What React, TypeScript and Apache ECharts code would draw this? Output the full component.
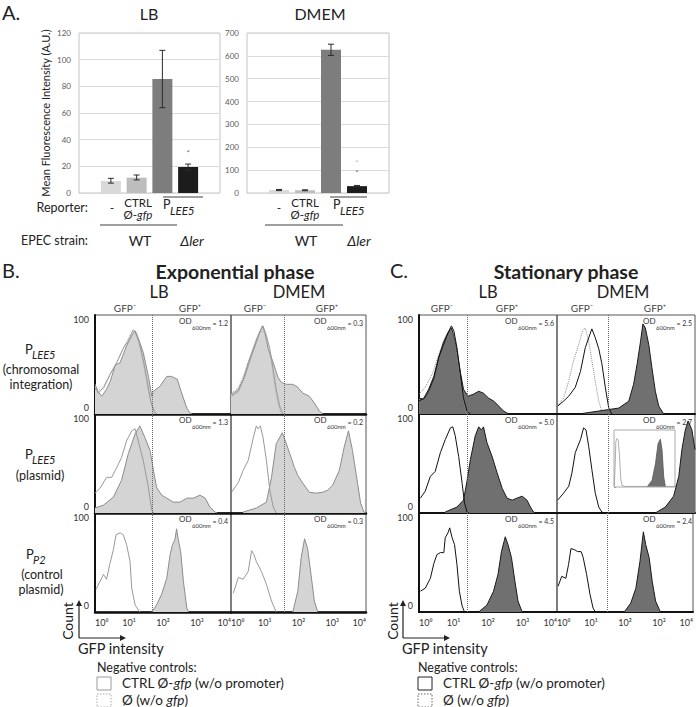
import React, { useEffect, useRef } from 'react';
import * as echarts from 'echarts';

// ---------- Panel A data ----------
const barCategories = ['-', 'CTRL Ø-gfp', 'PLEE5 WT', 'PLEE5 Δler'];
const lbMeans = [9, 11.5, 85.5, 19.5];
const lbErrLow = [7.4, 9.8, 64, 17.2];
const lbErrHigh = [11, 13.5, 107, 21.7];
const lbStar = [[3, 30]];
const dmemMeans = [13, 12, 627, 30];
const dmemErrLow = [10.5, 10, 602, 27];
const dmemErrHigh = [15.5, 14, 651, 33];
const dmemStars = [[3, 131], [3, 88]];

// ---------- Panels B / C histogram data: [log10 GFP intensity, % of max count] ----------
const expLbChromSample = [[0, 30], [0.1, 22], [0.2, 18], [0.34, 25], [0.45, 33], [0.59, 49], [0.74, 52], [0.93, 69], [1.08, 79], [1.18, 84], [1.27, 77], [1.42, 62], [1.57, 38], [1.67, 18], [1.72, 23], [1.91, 28], [2.11, 38], [2.25, 38], [2.42, 35], [2.55, 21], [2.7, 6], [2.79, 1], [2.85, 0]];
const expLbChromCtrl = [[0, 27], [0.1, 21], [0.25, 27], [0.44, 40], [0.64, 52], [0.83, 66], [0.98, 74], [1.11, 84], [1.18, 83], [1.3, 72], [1.42, 55], [1.54, 32], [1.64, 13], [1.74, 3], [1.81, 0]];
const expLbChromEmpty = [[0, 25], [0.25, 25], [0.44, 39], [0.64, 52], [0.83, 67], [1.01, 78], [1.13, 86], [1.23, 81], [1.34, 66], [1.47, 42], [1.6, 18], [1.7, 4], [1.76, 0]];
const expDmemChromSample = [[0, 20], [0.07, 21], [0.22, 25], [0.36, 35], [0.51, 52], [0.66, 66], [0.8, 79], [0.93, 89], [1.0, 83], [1.1, 66], [1.25, 52], [1.39, 37], [1.49, 32], [1.64, 30], [1.83, 30], [1.98, 27], [2.13, 21], [2.32, 18], [2.47, 11], [2.62, 3], [2.72, 0]];
const expDmemChromCtrl = [[0.02, 18], [0.22, 23], [0.41, 38], [0.61, 59], [0.75, 72], [0.87, 84], [0.95, 89], [1.05, 79], [1.15, 66], [1.25, 45], [1.34, 25], [1.44, 8], [1.54, 0]];
const expDmemChromEmpty = [[0.02, 21], [0.22, 27], [0.41, 42], [0.61, 62], [0.75, 76], [0.87, 83], [0.97, 84], [1.07, 74], [1.2, 52], [1.29, 30], [1.39, 11], [1.49, 0]];

const expLbPlasSample = [[0, 5], [0.25, 8], [0.54, 16], [0.78, 33], [0.98, 60], [1.18, 80], [1.32, 88], [1.47, 76], [1.62, 63], [1.72, 43], [1.81, 26], [1.96, 18], [2.11, 15], [2.3, 11], [2.5, 11], [2.7, 15], [2.89, 15], [3.09, 18], [3.24, 15], [3.38, 6], [3.53, 1], [3.6, 0]];
const expLbPlasCtrl = [[0, 20], [0.15, 25], [0.34, 36], [0.49, 36], [0.64, 46], [0.78, 56], [0.93, 73], [1.08, 83], [1.18, 85], [1.27, 73], [1.42, 53], [1.57, 26], [1.67, 3], [1.72, 0]];
const expDmemPlasSample = [[0.36, 1], [0.75, 5], [1.05, 11], [1.2, 36], [1.34, 70], [1.52, 81], [1.64, 70], [1.74, 60], [1.88, 46], [1.98, 38], [2.13, 30], [2.32, 21], [2.52, 20], [2.72, 21], [2.86, 23], [3.01, 28], [3.21, 43], [3.35, 66], [3.48, 83], [3.6, 63], [3.75, 30], [3.84, 10], [3.94, 1], [4, 0]];
const expDmemPlasCtrl = [[0.02, 21], [0.22, 31], [0.36, 43], [0.51, 53], [0.66, 76], [0.75, 88], [0.8, 85], [0.87, 88], [0.95, 76], [1.05, 53], [1.15, 23], [1.25, 6], [1.34, 0]];

const expLbP2Sample = [[1.67, 0], [1.81, 7], [1.96, 18], [2.11, 34], [2.21, 58], [2.28, 68], [2.35, 73], [2.4, 84], [2.45, 73], [2.52, 61], [2.6, 31], [2.7, 4], [2.75, 0]];
const expLbP2Ctrl = [[0.03, 23], [0.15, 31], [0.25, 38], [0.34, 33], [0.44, 49], [0.54, 63], [0.62, 78], [0.74, 80], [0.83, 78], [0.93, 68], [1.03, 51], [1.08, 24], [1.18, 7], [1.32, 0]];
const expDmemP2Sample = [[1.83, 0], [1.98, 21], [2.08, 55], [2.18, 74], [2.27, 64], [2.37, 38], [2.47, 11], [2.57, 0]];
const expDmemP2Ctrl = [[0.07, 19], [0.22, 35], [0.36, 33], [0.51, 41], [0.61, 62], [0.68, 58], [0.75, 51], [0.9, 41], [1.05, 28], [1.2, 11], [1.34, 0]];

const statLbChromSample = [[0, 16], [0.14, 15], [0.28, 23], [0.43, 36], [0.57, 57], [0.71, 73], [0.86, 83], [0.94, 87], [1.0, 80], [1.1, 64], [1.2, 42], [1.29, 25], [1.42, 18], [1.58, 20], [1.73, 23], [1.87, 21], [2.02, 16], [2.17, 13], [2.31, 8], [2.45, 3], [2.6, 0]];
const statLbChromCtrl = [[0, 13], [0.14, 16], [0.28, 25], [0.43, 38], [0.57, 57], [0.71, 70], [0.84, 82], [0.94, 89], [1.01, 84], [1.1, 67], [1.2, 40], [1.29, 16], [1.39, 3], [1.49, 0]];
const statLbChromEmpty = [[0, 20], [0.18, 27], [0.38, 40], [0.57, 60], [0.71, 73], [0.81, 82], [0.91, 85], [1.0, 80], [1.1, 60], [1.2, 34], [1.29, 13], [1.39, 0]];
const statDmemChromSample = [[0.63, 0], [1.21, 3], [1.79, 6], [2.08, 13], [2.22, 30], [2.32, 50], [2.42, 73], [2.49, 91], [2.56, 87], [2.66, 70], [2.75, 47], [2.85, 23], [2.95, 8], [3.09, 0]];
const statDmemChromCtrl = [[0.02, 8], [0.19, 13], [0.34, 18], [0.53, 27], [0.68, 43], [0.82, 67], [0.92, 77], [1.01, 86], [1.11, 77], [1.21, 66], [1.3, 51], [1.4, 27], [1.5, 6], [1.59, 0]];
const statDmemChromEmpty = [[0.02, 9], [0.19, 16], [0.34, 33], [0.48, 54], [0.63, 70], [0.74, 84], [0.82, 87], [0.92, 73], [1.01, 54], [1.11, 33], [1.21, 13], [1.3, 3], [1.35, 0]];

const statLbPlasSample = [[0.76, 1], [1.1, 6], [1.29, 13], [1.39, 32], [1.49, 54], [1.63, 78], [1.73, 87], [1.81, 84], [1.87, 87], [1.97, 71], [2.12, 57], [2.26, 41], [2.41, 25], [2.55, 15], [2.7, 13], [2.84, 15], [2.99, 17], [3.13, 13], [3.23, 6], [3.32, 1], [3.38, 0]];
const statLbPlasCtrl = [[0.04, 15], [0.18, 22], [0.33, 37], [0.47, 42], [0.62, 61], [0.76, 74], [0.91, 86], [0.98, 87], [1.05, 78], [1.15, 57], [1.25, 30], [1.32, 10], [1.39, 1], [1.45, 0]];
const statDmemPlasSample = [[2.85, 0], [3.14, 6], [3.38, 17], [3.53, 37], [3.62, 64], [3.72, 84], [3.8, 93], [3.91, 84], [4.0, 64]];
const statDmemPlasCtrl = [[0.02, 13], [0.19, 20], [0.34, 27], [0.43, 40], [0.53, 61], [0.68, 74], [0.77, 86], [0.84, 84], [0.92, 67], [1.01, 44], [1.11, 20], [1.21, 6], [1.3, 1], [1.36, 0]];
const insetSample = [[2.17, 0], [2.5, 12], [2.72, 41], [2.89, 76], [3.04, 84], [3.15, 65], [3.26, 18], [3.37, 0]];
const insetCtrl = [[0.02, 2], [0.08, 40], [0.12, 80], [0.2, 85], [0.28, 82], [0.36, 55], [0.44, 15], [0.52, 3], [0.7, 1], [4, 1]];

const statLbP2Sample = [[1.73, 0], [1.97, 7], [2.16, 21], [2.29, 38], [2.39, 61], [2.5, 76], [2.58, 68], [2.68, 55], [2.78, 31], [2.87, 11], [2.99, 0]];
const statLbP2Ctrl = [[0.04, 21], [0.18, 24], [0.33, 34], [0.43, 49], [0.52, 58], [0.62, 60], [0.72, 60], [0.76, 75], [0.84, 80], [0.89, 85], [0.96, 75], [1.03, 68], [1.1, 48], [1.17, 21], [1.25, 6], [1.32, 0]];
const statDmemP2Sample = [[1.98, 0], [2.17, 9], [2.32, 24], [2.44, 51], [2.54, 81], [2.61, 68], [2.71, 55], [2.8, 31], [2.9, 11], [3.04, 0]];
const statDmemP2Ctrl = [[0.03, 26], [0.14, 36], [0.26, 34], [0.34, 48], [0.41, 64], [0.51, 63], [0.61, 61], [0.71, 61], [0.77, 55], [0.87, 38], [0.97, 18], [1.06, 4], [1.13, 0]];

const expOd = ['1.2', '0.3', '1.3', '0.2', '0.4', '0.3'];
const statOd = ['5.6', '2.5', '5.0', '2.7', '4.5', '2.4'];
const expGate = [1.68, 1.57];
const statGate = [1.4, 1.48];
const xTickExponents = ['⁰', '¹', '²', '³', '⁴'];

const FONT = 'Lato, "Open Sans", "DejaVu Sans", sans-serif';

type Cell = { sample: number[][]; ctrl: number[][]; empty?: number[][] };

const expCells: Cell[] = [
  { sample: expLbChromSample, ctrl: expLbChromCtrl, empty: expLbChromEmpty },
  { sample: expDmemChromSample, ctrl: expDmemChromCtrl, empty: expDmemChromEmpty },
  { sample: expLbPlasSample, ctrl: expLbPlasCtrl },
  { sample: expDmemPlasSample, ctrl: expDmemPlasCtrl },
  { sample: expLbP2Sample, ctrl: expLbP2Ctrl },
  { sample: expDmemP2Sample, ctrl: expDmemP2Ctrl },
];
const statCells: Cell[] = [
  { sample: statLbChromSample, ctrl: statLbChromCtrl, empty: statLbChromEmpty },
  { sample: statDmemChromSample, ctrl: statDmemChromCtrl, empty: statDmemChromEmpty },
  { sample: statLbPlasSample, ctrl: statLbPlasCtrl },
  { sample: statDmemPlasSample, ctrl: statDmemPlasCtrl },
  { sample: statLbP2Sample, ctrl: statLbP2Ctrl },
  { sample: statDmemP2Sample, ctrl: statDmemP2Ctrl },
];

function T(text: string, x: number, y: number, o: any = {}) {
  const align = o.align || 'center';
  return {
    type: 'text', x, y, rotation: o.rot || 0, silent: true, z: 100,
    style: {
      text, fontSize: o.size || 12, fontFamily: FONT,
      fontWeight: o.bold ? 'bold' : 'normal', fontStyle: o.italic ? 'italic' : 'normal',
      fill: o.color || '#222', align, verticalAlign: 'middle', textAlign: align, textVerticalAlign: 'middle',
      rich: o.rich,
    },
  };
}
function richIt(size: number, color: string) {
  return {
    n: { fontSize: size, fontFamily: FONT, fill: color, color },
    i: { fontSize: size, fontFamily: FONT, fontStyle: 'italic', fill: color, color },
  };
}
function L(x1: number, y1: number, x2: number, y2: number, stroke: string, w: number, dash?: number[]) {
  return { type: 'line', silent: true, z: 100, shape: { x1, y1, x2, y2 }, style: { stroke, lineWidth: w, lineDash: dash } };
}

export default function App() {
  const ref = useRef<HTMLDivElement>(null);
  useEffect(() => {
    if (!ref.current) return;
    const chart = echarts.init(ref.current, null, { renderer: 'svg' });

    const grid: any[] = [];
    const xAxis: any[] = [];
    const yAxis: any[] = [];
    const series: any[] = [];
    const graphic: any[] = [];

    // ---- Panel A ----
    const barColors = ['#d9d9d9', '#bdbdbd', '#7d7d7d', '#1c1c1c'];
    const panelsA = [
      { left: 79, width: 141, max: 120, interval: 20, means: lbMeans, lo: lbErrLow, hi: lbErrHigh, stars: lbStar, starColors: ['#444'] },
      { left: 247, width: 142, max: 700, interval: 100, means: dmemMeans, lo: dmemErrLow, hi: dmemErrHigh, stars: dmemStars, starColors: ['#aaa', '#555'] },
    ];
    panelsA.forEach((p) => {
      const gf = grid.length;
      grid.push({ left: p.left, top: 33, width: p.width, height: 160, show: true, borderColor: '#c4c4c4', borderWidth: 1, backgroundColor: 'transparent' });
      xAxis.push({ gridIndex: gf, type: 'value', min: 0, max: 1, show: false });
      yAxis.push({
        gridIndex: gf, type: 'value', min: 0, max: p.max, interval: p.interval,
        axisLine: { show: false }, axisTick: { show: false },
        axisLabel: { fontSize: 8, color: '#5a5a5a', margin: 8, fontFamily: FONT },
        splitLine: { show: true, lineStyle: { color: '#dadada', width: 1 } },
      });
      series.push({ type: 'line', xAxisIndex: gf, yAxisIndex: gf, data: [], silent: true });
      const gb = grid.length;
      grid.push({ left: p.left + 19, top: 33, width: p.width - 38, height: 160, show: false });
      xAxis.push({ gridIndex: gb, type: 'category', data: barCategories, show: false });
      yAxis.push({ gridIndex: gb, type: 'value', min: 0, max: p.max, show: false });
      series.push({
        type: 'bar', xAxisIndex: gb, yAxisIndex: gb, barWidth: 20,
        data: p.means.map((v, i) => ({ value: v, itemStyle: { color: barColors[i] } })),
      });
      series.push({
        type: 'custom', xAxisIndex: gb, yAxisIndex: gb, encode: { x: 0, y: [1, 2] }, z: 5,
        data: p.lo.map((lo, i) => [i, lo, p.hi[i]]),
        renderItem: (_params: any, api: any) => {
          const a = api.coord([api.value(0), api.value(1)]);
          const b = api.coord([api.value(0), api.value(2)]);
          const st = { stroke: '#2a2a2a', lineWidth: 1 };
          return {
            type: 'group', children: [
              { type: 'line', shape: { x1: a[0], y1: a[1], x2: b[0], y2: b[1] }, style: st },
              { type: 'line', shape: { x1: a[0] - 3, y1: a[1], x2: a[0] + 3, y2: a[1] }, style: st },
              { type: 'line', shape: { x1: b[0] - 3, y1: b[1], x2: b[0] + 3, y2: b[1] }, style: st },
            ],
          };
        },
      });
      series.push({
        type: 'scatter', xAxisIndex: gb, yAxisIndex: gb, symbolSize: 1, z: 6,
        data: p.stars.map((s, i) => ({ value: s, itemStyle: { color: 'transparent' }, label: { show: true, formatter: '*', position: 'inside', fontSize: 8, lineHeight: 8, color: p.starColors[i], fontFamily: FONT } })),
      });
    });

    // ---- Panels B and C ----
    const rowTops = [315, 414, 513];
    const rowH = 99;
    const panelsH = [
      { cells: expCells, lefts: [95, 231], widths: [136, 135], od: expOd, gate: expGate, fill: '#d4d4d4', sLine: '#8c8c8c', ctrl: '#999999', empty: '#a8a8a8', bottom: 2.5 },
      { cells: statCells, lefts: [419, 557], widths: [138, 138], od: statOd, gate: statGate, fill: '#707070', sLine: '#1a1a1a', ctrl: '#111111', empty: '#8a8a8a', bottom: 2 },
    ];
    panelsH.forEach((P) => {
      P.cells.forEach((cell, k) => {
        const r = Math.floor(k / 2);
        const c = k % 2;
        const gi = grid.length;
        const left = P.lefts[c];
        const width = P.widths[c];
        const top = rowTops[r];
        grid.push({ left, top, width, height: rowH, show: true, borderColor: '#555', borderWidth: 1, backgroundColor: 'transparent' });
        xAxis.push({
          gridIndex: gi, type: 'value', min: 0, max: 4, interval: 1,
          axisLine: { show: true, onZero: false, lineStyle: { color: '#111', width: P.bottom } },
          axisTick: { show: false }, splitLine: { show: false },
          axisLabel: {
            show: r === 2, fontSize: 9, color: '#333', margin: 6, fontFamily: FONT,
            alignMinLabel: 'left', alignMaxLabel: 'right',
            formatter: (v: number) => '10' + xTickExponents[Math.round(v)],
          },
        });
        yAxis.push({
          gridIndex: gi, type: 'value', min: 0, max: 100, interval: 100,
          axisLine: { show: c === 0, lineStyle: { color: '#111', width: 2 } },
          axisTick: { show: false }, splitLine: { show: false }, axisLabel: { show: false },
        });
        series.push({
          type: 'line', xAxisIndex: gi, yAxisIndex: gi, data: cell.sample, symbol: 'none', z: 2,
          lineStyle: { color: P.sLine, width: 1 }, areaStyle: { color: P.fill, opacity: 1 },
          markLine: {
            silent: true, symbol: 'none', label: { show: false },
            lineStyle: { type: 'dotted', color: '#666', width: 1 },
            data: [{ xAxis: P.gate[c] }],
          },
        });
        if (cell.empty) {
          series.push({ type: 'line', xAxisIndex: gi, yAxisIndex: gi, data: cell.empty, symbol: 'none', z: 3, lineStyle: { color: P.empty, width: 1, type: 'dotted' } });
        }
        series.push({ type: 'line', xAxisIndex: gi, yAxisIndex: gi, data: cell.ctrl, symbol: 'none', z: 4, lineStyle: { color: P.ctrl, width: 1 } });

        // OD labels
        const right = left + width;
        graphic.push(T('OD', right - 52, top + 6, { size: 8, align: 'left', color: '#333' }));
        graphic.push(T('600nm', right - 39, top + 12.5, { size: 6, align: 'left', color: '#333' }));
        graphic.push(T('= ' + P.od[k], right - 3, top + 8, { size: 7, align: 'right', color: '#333' }));
        if (c === 0) {
          graphic.push(T('100', left - 6, top + 4, { size: 9, align: 'right', color: '#333' }));
          graphic.push(T('0', left - 6, top + rowH - 7, { size: 9, align: 'right', color: '#333' }));
        }
      });
    });

    // inset in stationary DMEM plasmid cell
    const gi = grid.length;
    grid.push({ left: 614, top: 430, width: 61, height: 57, show: true, borderColor: '#aaa', borderWidth: 1, backgroundColor: '#fff', z: 5 });
    xAxis.push({
      gridIndex: gi, type: 'value', min: 0, max: 4, interval: 0.5,
      axisLine: { show: false }, axisLabel: { show: false }, splitLine: { show: false },
      axisTick: { show: true, inside: true, length: 2, lineStyle: { color: '#999' } },
    });
    yAxis.push({
      gridIndex: gi, type: 'value', min: 0, max: 100, interval: 10,
      axisLine: { show: false }, axisLabel: { show: false }, splitLine: { show: false },
      axisTick: { show: true, inside: true, length: 2, lineStyle: { color: '#999' } },
    });
    series.push({ type: 'line', xAxisIndex: gi, yAxisIndex: gi, data: insetSample, symbol: 'none', z: 6, lineStyle: { color: '#555', width: 0.8 }, areaStyle: { color: '#707070', opacity: 1 } });
    series.push({ type: 'line', xAxisIndex: gi, yAxisIndex: gi, data: insetCtrl, symbol: 'none', z: 7, lineStyle: { color: '#999', width: 0.8 } });

    // ---- texts: panel A ----
    graphic.push(T('A.', 2, 12, { size: 20, align: 'left' }));
    graphic.push(T('LB', 149, 13, { size: 16 }));
    graphic.push(T('DMEM', 320, 13, { size: 16 }));
    graphic.push(T('Mean Fluorescence Intensity (A.U.)', 45, 113, { size: 11, rot: Math.PI / 2 }));
    graphic.push(T('Reporter:', 88, 207, { size: 12.5, align: 'right' }));
    graphic.push(T('EPEC strain:', 88, 240, { size: 12.5, align: 'right' }));
    const aCols = [
      { dash: 112, ctrl: 138, p: 163, pl: 163, pr: 203, wl: 100, wr: 177, wt: 140, ler: 192 },
      { dash: 279, ctrl: 305, p: 333, pl: 330, pr: 367, wl: 265, wr: 343, wt: 306, ler: 359 },
    ];
    aCols.forEach((a) => {
      graphic.push(T('-', a.dash, 207, { size: 12 }));
      graphic.push(T('CTRL', a.ctrl, 202, { size: 11.5 }));
      graphic.push(T('{n|Ø-}{i|gfp}', a.ctrl, 214, { size: 11.5, rich: richIt(11.5, '#222') }));
      graphic.push(T('P', a.p, 204, { size: 12.5, align: 'left' }));
      graphic.push(T('LEE5', a.p + 7, 210, { size: 11.5, italic: true, align: 'left' }));
      graphic.push(L(a.pl, 197, a.pr, 197, '#808080', 1.5));
      graphic.push(L(a.wl, 225, a.wr, 225, '#808080', 1.5));
      graphic.push(T('WT', a.wt, 240, { size: 14 }));
      graphic.push(T('Δler', a.ler, 240, { size: 14, italic: true }));
    });

    // ---- texts: panels B, C ----
    graphic.push(T('B.', 2, 270, { size: 20, align: 'left' }));
    graphic.push(T('Exponential phase', 235, 271, { size: 19.5, bold: true }));
    graphic.push(T('LB', 159, 292, { size: 16.5 }));
    graphic.push(T('DMEM', 299, 292, { size: 16.5 }));
    graphic.push(T('C.', 390, 270, { size: 20, align: 'left' }));
    graphic.push(T('Stationary phase', 566, 271, { size: 19.5, bold: true }));
    graphic.push(T('LB', 488, 292, { size: 16.5 }));
    graphic.push(T('DMEM', 623, 292, { size: 16.5 }));
    [125, 255, 442, 582].forEach((x) => graphic.push(T('GFP⁻', x, 308, { size: 10, color: '#444' })));
    [190, 327, 507, 655].forEach((x) => graphic.push(T('GFP⁺', x, 308, { size: 10, color: '#444' })));

    // row labels
    graphic.push(T('P', 25, 349, { size: 13, align: 'left' }));
    graphic.push(T('LEE5', 32, 354, { size: 11, italic: true, align: 'left' }));
    graphic.push(T('(chromosomal', 41, 369, { size: 12.5 }));
    graphic.push(T('integration)', 41, 384, { size: 12.5 }));
    graphic.push(T('P', 25, 454, { size: 13, align: 'left' }));
    graphic.push(T('LEE5', 32, 459, { size: 11, italic: true, align: 'left' }));
    graphic.push(T('(plasmid)', 40, 475, { size: 12.5 }));
    graphic.push(T('P', 26, 554, { size: 13, align: 'left' }));
    graphic.push(T('P2', 33, 559, { size: 11, italic: true, align: 'left' }));
    graphic.push(T('(control', 42, 574, { size: 12.5 }));
    graphic.push(T('plasmid)', 41, 589, { size: 12.5 }));

    // axis arrows & legends
    const legends = [
      { ax: 79, cx: 67, lx: 97, tx: 122, solid: '#9a9a9a', dot: '#aaa' },
      { ax: 403, cx: 392, lx: 418, tx: 443, solid: '#222', dot: '#666' },
    ];
    legends.forEach((g) => {
      graphic.push(L(g.ax, 638, g.ax, 605, '#222', 1.2));
      graphic.push({ type: 'polygon', silent: true, z: 100, shape: { points: [[g.ax - 3, 606], [g.ax + 3, 606], [g.ax, 600]] }, style: { fill: '#222' } });
      graphic.push(L(g.ax, 638, g.ax + 42, 638, '#222', 1.2));
      graphic.push({ type: 'polygon', silent: true, z: 100, shape: { points: [[g.ax + 41, 635], [g.ax + 41, 641], [g.ax + 47, 638]] }, style: { fill: '#222' } });
      graphic.push(T('Count', g.cx, 621, { size: 14, rot: Math.PI / 2 }));
      graphic.push(T('GFP intensity', g.ax - 1, 648, { size: 14.5, align: 'left' }));
      graphic.push(T('Negative controls:', g.lx, 667, { size: 12.5, align: 'left' }));
      graphic.push({ type: 'rect', silent: true, z: 100, shape: { x: g.lx, y: 677, width: 14, height: 13 }, style: { fill: 'transparent', stroke: g.solid, lineWidth: 1 } });
      graphic.push({ type: 'rect', silent: true, z: 100, shape: { x: g.lx, y: 694, width: 14, height: 13 }, style: { fill: 'transparent', stroke: g.dot, lineWidth: 1, lineDash: [1.5, 1.5] } });
      graphic.push(T('{n|CTRL Ø-}{i|gfp}{n| (w/o promoter)}', g.tx, 683, { size: 13.5, align: 'left', rich: richIt(13.5, '#222') }));
      graphic.push(T('{n|Ø (w/o }{i|gfp}{n|)}', g.tx, 700, { size: 13.5, align: 'left', rich: richIt(13.5, '#222') }));
    });

    chart.setOption({
      animation: false,
      backgroundColor: '#fff',
      textStyle: { fontFamily: FONT },
      grid, xAxis, yAxis, series, graphic,
    });
    return () => chart.dispose();
  }, []);
  return <div ref={ref} style={{ position: 'absolute', left: 0, top: 0, width: 696, height: 707 }} />;
}
